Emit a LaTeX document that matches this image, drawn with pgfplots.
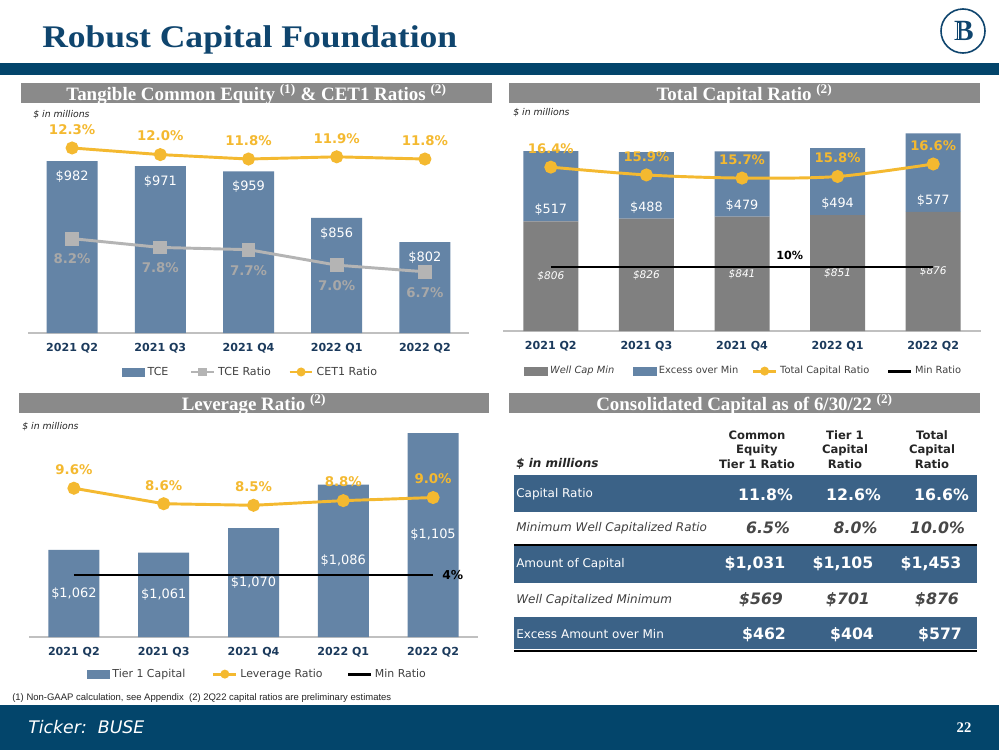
\documentclass[border=0pt]{standalone}
\usepackage{fontspec}
\setmainfont{DejaVu Sans}
\newfontfamily\geo{Liberation Serif}
\newfontfamily\lsans{Liberation Sans}
\usepackage{graphicx}
\usepackage{pgfplots}
\pgfplotsset{compat=1.18}
\newdimen\px \px=0.75pt
\newcommand\fs[1]{\fontsize{#1}{#1}\selectfont}
\newcommand\gap[1]{\rule{#1pt}{0pt}}
\definecolor{navy}{HTML}{0F456E}
\definecolor{band}{HTML}{03456B}
\definecolor{hdr}{HTML}{8A8A8A}
\definecolor{barblue}{HTML}{6484A6}
\definecolor{tblblue}{HTML}{3B6287}
\definecolor{capgray}{HTML}{808080}
\definecolor{gold}{HTML}{F4B930}
\definecolor{tcegray}{HTML}{B4B4B4}
\definecolor{tcelab}{HTML}{A8A8A8}
\definecolor{ticknavy}{HTML}{1B3A5C}
\definecolor{legtext}{HTML}{404040}
\definecolor{axisgray}{HTML}{C0C0C0}
\definecolor{darktext}{HTML}{262626}
\pgfplotsset{
  panel/.style={scale only axis, anchor=south west, xmin=-0.5, xmax=4.5, clip=false},
  mainax/.style={panel, axis x line=bottom, axis y line=none,
    x axis line style={-, draw=axisgray, line width=1.1pt},
    xtick={0,1,2,3,4}, xticklabels={2021 Q2,2021 Q3,2021 Q4,2022 Q1,2022 Q2},
    ytick=\empty, major tick length=0pt,
    xticklabel style={font=\bfseries\fs{8.3}, text=ticknavy, anchor=center, yshift=-11.25pt}},
  overax/.style={panel, hide axis},
  lbl/.style={nodes near coords={\pgfplotspointmeta}, point meta=explicit symbolic},
  leg/.style={legend style={at={#1}, anchor=center, draw=none, fill=none, legend columns=-1, text=legtext},
    legend image post style={mark size=2.2pt}},
  goldline/.style={gold, line width=2.2pt, mark=*, mark size=3.75pt, mark options={fill=gold, draw=gold}},
}
\begin{document}
\begin{tikzpicture}
\begin{scope}[x=0.75pt,y=-0.75pt]
\useasboundingbox (0,0) rectangle (999,750);
\fill[white] (0,0) rectangle (999,750);
% title
\node[anchor=base west, inner sep=0pt, text=navy] at (42,47) {\scalebox{1.13}[1]{\geo\bfseries\fs{23.6}Robust Capital Foundation}};
\fill[band] (0,63) rectangle (999,75);
% logo
\draw[navy, line width=1.2pt] (963,31) circle[radius=16.5pt];
\node[text=navy, inner sep=0pt] at (964,31) {\geo\bfseries\fs{22}B};
\foreach \xx in {952.5,955.5,958.5} \draw[white, line width=0.5pt] (\xx,23) -- (\xx,39);
% section headers
\fill[hdr] (21,83) rectangle (492,103);
\node[anchor=base, inner sep=0pt, text=white] at (256.5,100) {\geo\bfseries\fs{14.2}Tangible Common Equity \textsuperscript{(1)} \& CET1 Ratios \textsuperscript{(2)}};
\fill[hdr] (509,83) rectangle (980,103);
\node[anchor=base, inner sep=0pt, text=white] at (744.5,100.5) {\geo\bfseries\fs{14.2}Total Capital Ratio \textsuperscript{(2)}};
\fill[hdr] (19,393) rectangle (489,413);
\node[anchor=base, inner sep=0pt, text=white] at (254,410.5) {\geo\bfseries\fs{14.2}Leverage Ratio \textsuperscript{(2)}};
\fill[hdr] (509,393) rectangle (980,413);
\node[anchor=base, inner sep=0pt, text=white] at (744.5,410) {\geo\bfseries\fs{14.2}Consolidated Capital as of 6/30/22 \textsuperscript{(2)}};
% $ in millions
\node[anchor=west, inner sep=0pt, text=darktext] at (33,115) {\itshape\fs{7}\$ in millions};
\node[anchor=west, inner sep=0pt, text=darktext] at (513,113) {\itshape\fs{7}\$ in millions};
\node[anchor=west, inner sep=0pt, text=darktext] at (22,427) {\itshape\fs{7}\$ in millions};
% table
\fill[tblblue] (514,475) rectangle (977,512);
\fill[tblblue] (514,546) rectangle (977,583);
\fill[tblblue] (514,617) rectangle (977,649);
\draw[black, line width=1.5pt] (514,545) -- (977,545);
\draw[black, line width=1.5pt] (514,651) -- (977,651);
\node[align=center, inner sep=0pt, text=darktext, font=\bfseries\fontsize{8.7}{10.9}\selectfont] at (757,449.5) {Common\\Equity\\Tier 1 Ratio};
\node[align=center, inner sep=0pt, text=darktext, font=\bfseries\fontsize{8.7}{10.9}\selectfont] at (845,449.5) {Tier 1\\Capital\\Ratio};
\node[align=center, inner sep=0pt, text=darktext, font=\bfseries\fontsize{8.7}{10.9}\selectfont] at (932,449.5) {Total\\Capital\\Ratio};
\node[anchor=west, inner sep=0pt, text=darktext] at (516,464) {\bfseries\itshape\fs{9}\$ in millions};
\node[anchor=west, inner sep=0pt, text=white] at (516,494) {\fs{9}Capital Ratio};
\node[anchor=west, inner sep=0pt, text=legtext] at (516,528) {\itshape\fs{9}Minimum Well Capitalized Ratio};
\node[anchor=west, inner sep=0pt, text=white] at (516,564) {\fs{9}Amount of Capital};
\node[anchor=west, inner sep=0pt, text=legtext] at (516,600) {\itshape\fs{9}Well Capitalized Minimum};
\node[anchor=west, inner sep=0pt, text=white] at (516,634) {\fs{9}Excess Amount over Min};
\foreach \x/\t in {765.5/11.8\%, 853.5/12.6\%, 941.5/16.6\%} \node[inner sep=0pt, text=white] at (\x,495) {\bfseries\fs{11.8}\t};
\foreach \x/\t in {768/6.5\%, 855.5/8.0\%, 937.5/10.0\%} \node[inner sep=0pt, text=darktext!85] at (\x,528) {\bfseries\itshape\fs{11.8}\t};
\foreach \x/\t in {755/\$1{,}031, 843/\$1{,}105, 931/\$1{,}453} \node[inner sep=0pt, text=white] at (\x,564) {\bfseries\fs{11.8}\t};
\foreach \x/\t in {761/\$569, 848/\$701, 937/\$876} \node[inner sep=0pt, text=darktext!85] at (\x,600) {\bfseries\itshape\fs{11.8}\t};
\foreach \x/\t in {764/\$462, 852/\$404, 940/\$577} \node[inner sep=0pt, text=white] at (\x,635) {\bfseries\fs{11.8}\t};
% footnote and footer
\node[anchor=base west, inner sep=0pt, text=darktext] at (12,700) {\resizebox{379\px}{!}{\lsans\fs{6.3}(1) Non-GAAP calculation, see Appendix\ \ (2) 2Q22 capital ratios are preliminary estimates}};
\fill[band] (0,705) rectangle (999,750);
\node[anchor=west, inner sep=0pt, text=white] at (28,727) {\itshape\fs{13}Ticker:\ \ BUSE};
\node[inner sep=0pt, text=white] at (964,728) {\geo\bfseries\fs{11}22};
\end{scope}

% ===== Top-left: TCE =====
\begin{axis}[mainax, at={(21pt,-249.75pt)}, width=330.75pt, height=144.75pt, ymin=600, ymax=1028.9]
\addplot[ybar, bar width=38.25pt, fill=barblue, draw=none, lbl,
  every node near coord/.append style={anchor=north, inner sep=0pt, yshift=-7pt, text=white, font=\fs{9.7}}]
  coordinates {(0,982)[\$982] (1,971)[\$971] (2,959)[\$959] (3,856)[\$856] (4,802)[\$802]};
\end{axis}
\begin{axis}[overax, at={(21pt,-249.75pt)}, width=330.75pt, height=144.75pt, ymin=3.93, ymax=12.66,
  leg={(0.505,-0.202)}, legend style={font=\fs{8.3}}]
\addlegendimage{area legend, fill=barblue, draw=barblue}
\addlegendentry{TCE\gap{14}}
\addplot[tcegray, line width=2.2pt, mark=square*, mark size=4.1pt, mark options={fill=tcegray, draw=tcegray}, lbl,
  every node near coord/.append style={anchor=north, inner sep=0pt, yshift=-10.5pt, text=tcelab, font=\bfseries\fs{10}}]
  coordinates {(0,8.2)[8.2\%] (1,7.8)[7.8\%] (2,7.7)[7.7\%] (3,7.0)[7.0\%] (4,6.7)[6.7\%]};
\addlegendentry{TCE Ratio\gap{11}}
\addplot[goldline, lbl,
  every node near coord/.append style={anchor=south, inner sep=0pt, yshift=9pt, text=gold, font=\bfseries\fs{10}}]
  coordinates {(0,12.3)[12.3\%] (1,12.0)[12.0\%] (2,11.8)[11.8\%] (3,11.9)[11.9\%] (4,11.8)[11.8\%]};
\addlegendentry{CET1 Ratio}
\end{axis}

% ===== Top-right: Total Capital =====
\begin{axis}[mainax, at={(377.25pt,-248.25pt)}, width=358.5pt, height=158.25pt, ymin=0, ymax=1551,
  ybar stacked, bar width=41.25pt]
\addplot[fill=capgray, draw=none] coordinates {(0,806) (1,826) (2,841) (3,851) (4,876)};
\addplot[fill=barblue, draw=none] coordinates {(0,517) (1,488) (2,479) (3,494) (4,577)};
\end{axis}
\begin{axis}[overax, at={(377.25pt,-248.25pt)}, width=358.5pt, height=158.25pt, ymin=0, ymax=1551]
\addplot[draw=none, lbl,
  every node near coord/.append style={anchor=center, inner sep=0pt, text=white, font=\itshape\fs{7.9}}]
  coordinates {(0,403)[\$806] (1,413)[\$826] (2,420.5)[\$841] (3,425.5)[\$851] (4,438)[\$876]};
\addplot[draw=none, lbl,
  every node near coord/.append style={anchor=south, inner sep=0pt, yshift=4pt, text=white, font=\fs{9.6}}]
  coordinates {(0,806)[\$517] (1,826)[\$488] (2,841)[\$479] (3,851)[\$494] (4,876)[\$577]};
\end{axis}
\begin{axis}[overax, at={(377.25pt,-248.25pt)}, width=358.5pt, height=158.25pt, ymin=5.9, ymax=19.42,
  leg={(0.504,-0.19)}, legend style={font=\fs{7.4}}]
\addlegendimage{area legend, fill=capgray, draw=capgray}
\addlegendentry{\itshape Well Cap Min\gap{12}}
\addlegendimage{area legend, fill=barblue, draw=barblue}
\addlegendentry{Excess over Min\gap{8}}
\addplot[goldline, smooth, lbl,
  every node near coord/.append style={anchor=south, inner sep=0pt, yshift=9pt, text=gold, font=\bfseries\fs{9.9}}]
  coordinates {(0,16.4)[16.4\%] (1,15.9)[15.9\%] (2,15.7)[15.7\%] (3,15.8)[15.8\%] (4,16.6)[16.6\%]};
\addlegendentry{Total Capital Ratio\gap{11}}
\addplot[black, line width=2.2pt] coordinates {(0,10) (4,10)};
\addlegendentry{Min Ratio}
\addplot[draw=none, forget plot, lbl,
  every node near coord/.append style={anchor=south, inner sep=0pt, yshift=5pt, text=black, font=\bfseries\fs{8.4}}]
  coordinates {(2.5,10)[10\%]};
\end{axis}

% ===== Bottom-left: Leverage =====
\begin{axis}[mainax, at={(21.75pt,-477.75pt)}, width=336.75pt, height=159pt, ymin=1030, ymax=1107.94]
\addplot[ybar, bar width=38.25pt, fill=barblue, draw=none] coordinates {(0,1062) (1,1061) (2,1070) (3,1086) (4,1105)};
\end{axis}
\begin{axis}[overax, at={(21.75pt,-477.75pt)}, width=336.75pt, height=159pt, ymin=1030, ymax=1107.94]
\addplot[draw=none, lbl,
  every node near coord/.append style={anchor=center, inner sep=0pt, text=white, font=\fs{9.7}}]
  coordinates {(0,1046)[\$1{,}062] (1,1045.5)[\$1{,}061] (2,1050)[\$1{,}070] (3,1058)[\$1{,}086] (4,1067.5)[\$1{,}105]};
\end{axis}
\begin{axis}[overax, at={(21.75pt,-477.75pt)}, width=336.75pt, height=159pt, ymin=0, ymax=13.68,
  leg={(0.509,-0.175)}, legend style={font=\fs{8.2}}]
\addlegendimage{area legend, fill=barblue, draw=barblue}
\addlegendentry{Tier 1 Capital\gap{18}}
\addplot[goldline, lbl,
  every node near coord/.append style={anchor=south, inner sep=0pt, yshift=9pt, text=gold, font=\bfseries\fs{10}}]
  coordinates {(0,9.6)[9.6\%] (1,8.6)[8.6\%] (2,8.5)[8.5\%] (3,8.8)[8.8\%] (4,9.0)[9.0\%]};
\addlegendentry{Leverage Ratio\gap{16}}
\addplot[black, line width=2.2pt] coordinates {(0,4) (4,4)};
\addlegendentry{Min Ratio}
\addplot[draw=none, forget plot, lbl,
  every node near coord/.append style={anchor=west, inner sep=0pt, xshift=6.75pt, text=black, font=\bfseries\fs{9.2}}]
  coordinates {(4,4)[4\%]};
\end{axis}
\end{tikzpicture}
\end{document}
